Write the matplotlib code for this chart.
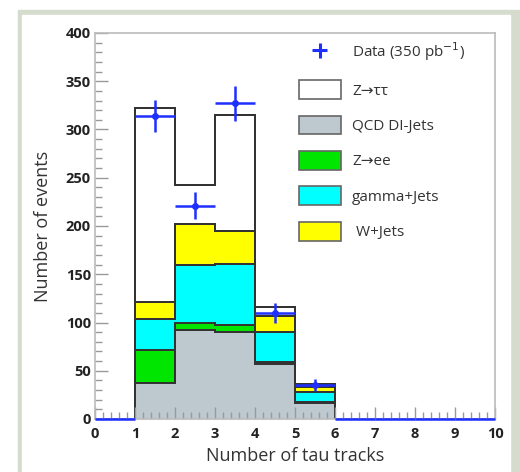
import matplotlib
matplotlib.use("Agg")
import matplotlib.pyplot as plt
import numpy as np
from matplotlib.patches import Rectangle, Patch
from matplotlib.ticker import MultipleLocator

# histogram contents per bin (Number of tau tracks 0..10)
edges = np.arange(0, 11)
qcd = [0, 37, 92, 90, 57, 17, 0, 0, 0, 0]
zee = [0, 35, 7, 7, 2, 1, 0, 0, 0, 0]
gamma = [0, 32, 61, 64, 31, 10, 0, 0, 0, 0]
wjets = [0, 17, 42, 34, 17, 5, 0, 0, 0, 0]
ztt = [0, 201, 40, 120, 9, 3, 0, 0, 0, 0]
data = [0, 314, 221, 327, 110, 35, 0, 0, 0, 0]
data_err = [0, 17, 14, 18, 10, 6, 0, 0, 0, 0]

labels = ["Z\u2192\u03c4\u03c4", "QCD DI-Jets", "Z\u2192ee", "gamma+Jets", " W+Jets"]

plt.rcParams['font.family'] = ['Open Sans', 'DejaVu Sans']

fig = plt.figure(figsize=(5.2, 4.72), dpi=100)
# page frame
fig.patches.append(Rectangle((18/520, 0), (520-18)/520, 1 - 10/472,
                             transform=fig.transFigure, color='#d5dccd', zorder=-10))
fig.patches.append(Rectangle((22/520, 0), (510-22)/520, 1 - 15/472,
                             transform=fig.transFigure, color='white', zorder=-9))

ax = fig.add_axes([95/520, 1 - 419/472, 400/520, 386/472])
ax.set_facecolor('none')

# stacked layers, drawn largest first (ROOT THStack style)
layers = [qcd, zee, gamma, wjets, ztt]
colors = ['#bdc8cf', '#00e600', '#00ffff', '#ffff00', 'white']
cum = np.cumsum(np.array(layers, dtype=float), axis=0)
for i in range(len(layers) - 1, -1, -1):
    ax.stairs(cum[i], edges, baseline=0, fill=True, facecolor=colors[i],
              edgecolor='#333333', linewidth=1.4)
    ax.stairs(cum[i], edges, baseline=0, fill=False, color='#333333', linewidth=1.4)

centers = (edges[:-1] + edges[1:]) / 2
blue = '#1f2fff'
ax.errorbar(centers, data, xerr=0.5, yerr=data_err, fmt='none', ecolor=blue,
            elinewidth=1.8, capsize=0, zorder=5, clip_on=False)
ax.plot(centers, np.ma.masked_equal(data, 0), 'o', color=blue, markersize=4, zorder=6)

ax.set_xlim(0, 10)
ax.set_ylim(0, 400)
ax.xaxis.set_major_locator(MultipleLocator(1))
ax.xaxis.set_minor_locator(MultipleLocator(0.2))
ax.yaxis.set_major_locator(MultipleLocator(50))
ax.yaxis.set_minor_locator(MultipleLocator(10))
ax.tick_params(which='both', direction='in', color='#999999', top=False, right=False)
ax.tick_params(which='major', length=9, width=1)
ax.tick_params(which='minor', length=5, width=1)
ax.tick_params(axis='x', pad=6)
ax.tick_params(axis='y', pad=3)
for lab in ax.get_xticklabels() + ax.get_yticklabels():
    lab.set_fontweight('bold')
    lab.set_fontsize(10.5)
    lab.set_color('#222222')
for s in ax.spines.values():
    s.set_color('#bbbbbb')
    s.set_linewidth(1.2)

ax.set_xlabel('Number of tau tracks', fontsize=13, color='#333333', labelpad=4)
ax.set_ylabel('Number of events', fontsize=13, color='#333333', labelpad=10)

handles = [ax.errorbar([], [], xerr=1, yerr=1, fmt='o', color=blue, markersize=0, elinewidth=2.2)]
for c in ['white', '#bdc8cf', '#00e600', '#00ffff', '#ffff00']:
    handles.append(Patch(facecolor=c, edgecolor='#666666', linewidth=1.2))
leg = ax.legend(handles, ["Data (350 pb$^{-1}$)"] + labels, loc='upper left',
                bbox_to_anchor=(0.49, 1.0), frameon=False, fontsize=11,
                handlelength=2.75, handleheight=1.5, labelspacing=1.1,
                handletextpad=0.75, borderpad=0)
for t in leg.get_texts():
    t.set_color('#333333')

fig.savefig('out.png', dpi=100)
